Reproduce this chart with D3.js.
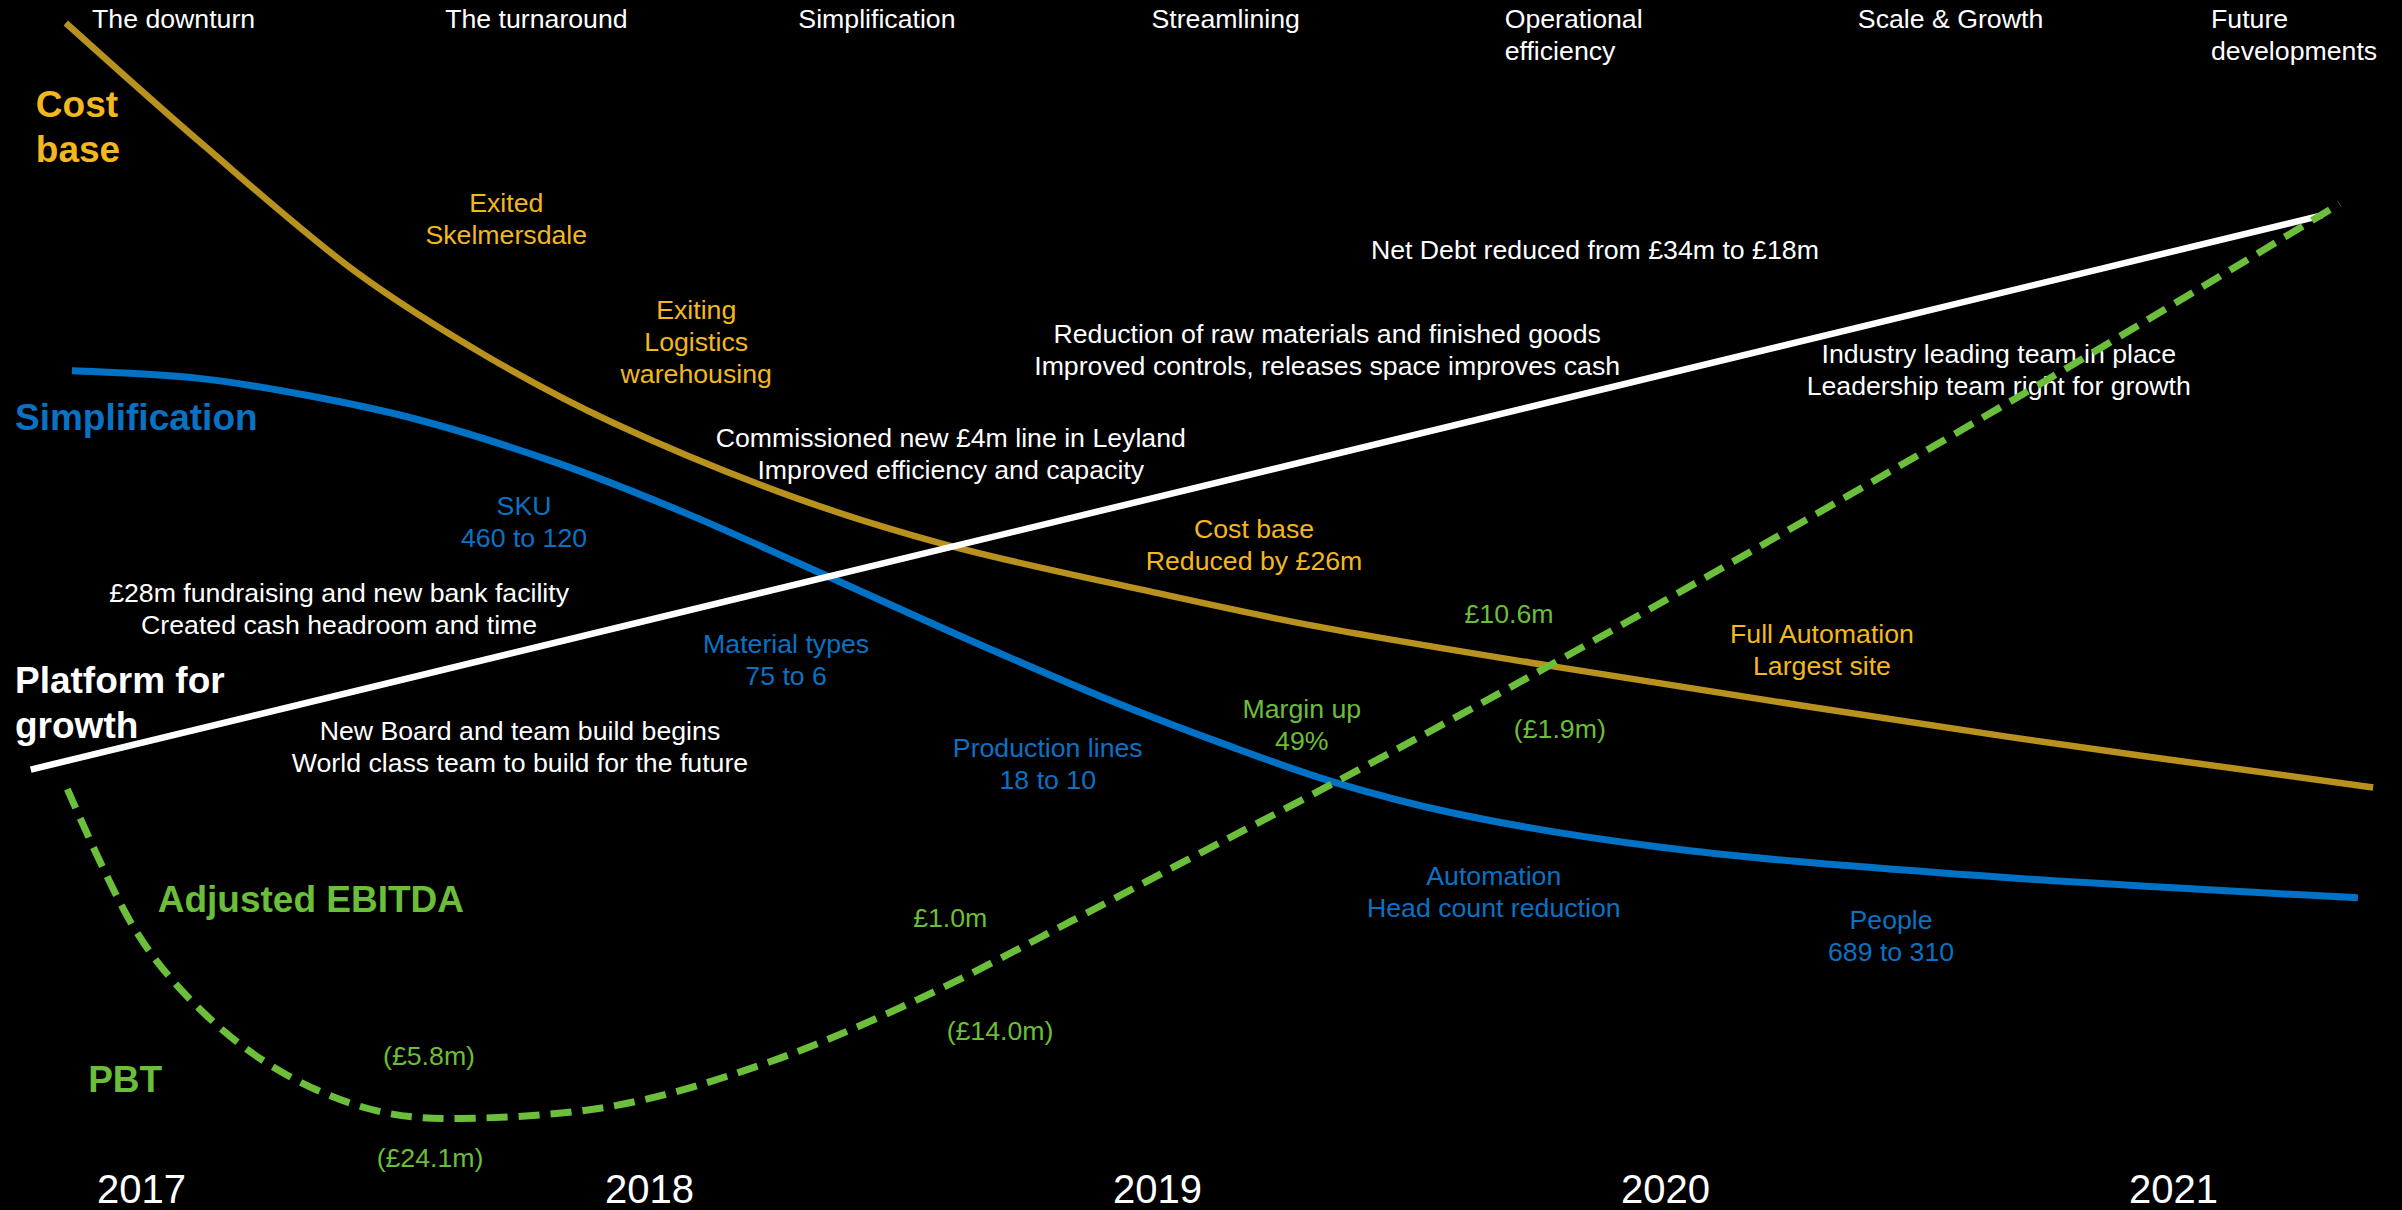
<!DOCTYPE html>
<html>
<head>
<meta charset="utf-8">
<script src="https://cdn.jsdelivr.net/npm/d3@7"></script>
<style>
  html, body { margin: 0; padding: 0; background: #000; }
  svg { display: block; }
  text { font-family: "Liberation Sans", Arial, sans-serif; }
</style>
</head>
<body>
<svg></svg>
<script>
// years along the bottom
var years = [2017, 2018, 2019, 2020, 2021];

// stage headings along the top
var phases = [["The downturn"], ["The turnaround"], ["Simplification"], ["Streamlining"],
              ["Operational", "efficiency"], ["Scale & Growth"], ["Future", "developments"]];

// curves: yr = position in years, v = relative level (0 bottom .. 100 top)
var costBase = [
  {yr: 2016.852, v: 98.1}, {yr: 2017.124, v: 87.97}, {yr: 2017.425, v: 77.46},
  {yr: 2017.678, v: 70.62}, {yr: 2017.929, v: 65.06}, {yr: 2018.297, v: 58.73},
  {yr: 2018.589, v: 54.93}, {yr: 2018.999, v: 51.0}, {yr: 2019.301, v: 48.34},
  {yr: 2019.780, v: 44.93}, {yr: 2020.676, v: 39.1}, {yr: 2021.394, v: 34.92}
];
var simplification = [
  {yr: 2016.864, v: 69.36}, {yr: 2017.115, v: 68.73}, {yr: 2017.326, v: 67.33},
  {yr: 2017.546, v: 65.31}, {yr: 2017.826, v: 61.64}, {yr: 2018.080, v: 57.45},
  {yr: 2018.297, v: 53.41}, {yr: 2018.598, v: 47.71}, {yr: 2018.900, v: 42.26},
  {yr: 2019.135, v: 38.46}, {yr: 2019.343, v: 35.43}, {yr: 2019.587, v: 32.77},
  {yr: 2019.992, v: 29.98}, {yr: 2020.595, v: 27.7}, {yr: 2021.364, v: 25.8}
];
var platform = [
  {yr: 2016.783, v: 36.4}, {yr: 2021.293, v: 82.2}
];
var ebitda = [
  {yr: 2016.855, v: 34.79}, {yr: 2016.985, v: 23.4}, {yr: 2017.084, v: 17.96},
  {yr: 2017.217, v: 13.02}, {yr: 2017.356, v: 9.73}, {yr: 2017.492, v: 7.95},
  {yr: 2017.627, v: 7.57}, {yr: 2017.929, v: 8.59}, {yr: 2018.230, v: 12.13},
  {yr: 2018.532, v: 17.45}, {yr: 2018.833, v: 23.91}, {yr: 2019.084, v: 29.48},
  {yr: 2019.343, v: 35.17}, {yr: 2019.780, v: 45.17}, {yr: 2020.685, v: 66.95},
  {yr: 2021.328, v: 83.16}
];

// series names (bold)
var seriesLabels = [
  {lines: ["Cost", "base"], yr: 2016.793, v: 90.3, kind: "gold"},
  {lines: ["Simplification"], yr: 2016.752, v: 64.5, kind: "blue"},
  {lines: ["Platform for", "growth"], yr: 2016.752, v: 42.7, kind: "white"},
  {lines: ["Adjusted EBITDA"], yr: 2017.033, v: 24.6, kind: "green"},
  {lines: ["PBT"], yr: 2016.896, v: 9.75, kind: "green"}
];

// annotations
var goldNotes = [
  {lines: ["Exited", "Skelmersdale"], yr: 2017.719, v: 82.5},
  {lines: ["Exiting", "Logistics", "warehousing"], yr: 2018.093, v: 73.6},
  {lines: ["Cost base", "Reduced by £26m"], yr: 2019.191, v: 55.5},
  {lines: ["Full Automation", "Largest site"], yr: 2020.309, v: 46.9}
];
var blueNotes = [
  {lines: ["SKU", "460 to 120"], yr: 2017.754, v: 57.4},
  {lines: ["Material types", "75 to 6"], yr: 2018.270, v: 46.0},
  {lines: ["Production lines", "18 to 10"], yr: 2018.785, v: 37.4},
  {lines: ["Automation", "Head count reduction"], yr: 2019.663, v: 26.9},
  {lines: ["People", "689 to 310"], yr: 2020.445, v: 23.2}
];
var greenNotes = [
  {lines: ["£10.6m"], yr: 2019.693, v: 48.5},
  {lines: ["(£1.9m)"], yr: 2019.793, v: 39.0},
  {lines: ["Margin up", "49%"], yr: 2019.285, v: 40.7},
  {lines: ["£1.0m"], yr: 2018.593, v: 23.4},
  {lines: ["(£14.0m)"], yr: 2018.691, v: 14.05},
  {lines: ["(£5.8m)"], yr: 2017.567, v: 12.0},
  {lines: ["(£24.1m)"], yr: 2017.569, v: 3.55}
];
var whiteNotes = [
  {lines: ["Net Debt reduced from £34m to £18m"], yr: 2019.862, v: 78.6},
  {lines: ["Reduction of raw materials and finished goods", "Improved controls, releases space improves cash"], yr: 2019.335, v: 71.65},
  {lines: ["Industry leading team in place", "Leadership team right for growth"], yr: 2020.657, v: 70.0},
  {lines: ["Commissioned new £4m line in Leyland", "Improved efficiency and capacity"], yr: 2018.594, v: 63.06},
  {lines: ["£28m fundraising and new bank facility", "Created cash headroom and time"], yr: 2017.390, v: 50.25},
  {lines: ["New Board and team build begins", "World class team to build for the future"], yr: 2017.746, v: 38.84}
];

var width = 2402;
var height = 1210;

var colors = {
  gold: "#B8911F", goldText: "#F2B81E",
  blue: "#0072C6", blueText: "#0A72C4",
  green: "#6CBF3A", greenText: "#6BBE3A",
  white: "#FFFFFF"
};

var x = d3.scaleLinear().domain([2017, 2021]).range([141, 2173]);
var y = d3.scaleLinear().domain([0, 100]).range([height, 0]);
var phaseX = d3.scaleLinear().domain([0, phases.length - 1]).range([92, 2211]);

var svg = d3.select("svg")
    .attr("width", width)
    .attr("height", height)
    .style("background", "#000");

svg.append("rect")
    .attr("width", width)
    .attr("height", height)
    .attr("fill", "#000");

var line = d3.line()
    .x(d => x(d.yr))
    .y(d => y(d.v))
    .curve(d3.curveCatmullRom.alpha(0.5));

// lines, in the stacking order of the picture
svg.append("path")
    .datum(costBase)
    .attr("fill", "none")
    .attr("stroke", colors.gold)
    .attr("stroke-width", 6.5)
    .attr("d", line);

svg.append("path")
    .datum(simplification)
    .attr("fill", "none")
    .attr("stroke", colors.blue)
    .attr("stroke-width", 7)
    .attr("d", line);

svg.append("path")
    .datum(platform)
    .attr("fill", "none")
    .attr("stroke", colors.white)
    .attr("stroke-width", 6.5)
    .attr("d", line);

// top headings
var heads = svg.append("g").selectAll("text")
    .data(phases)
    .enter()
    .append("text")
    .attr("x", (d, i) => phaseX(i))
    .attr("y", 28)
    .attr("fill", "#fff")
    .attr("font-size", 26.7);
heads.selectAll("tspan")
    .data(d => d)
    .enter()
    .append("tspan")
    .attr("x", function() { return d3.select(this.parentNode).attr("x"); })
    .attr("dy", (d, i) => i === 0 ? 0 : 32)
    .text(d => d);

// year axis
var axis = d3.axisBottom(x)
    .tickValues(years)
    .tickFormat(d3.format("d"))
    .tickSize(0);
var axisG = svg.append("g")
    .attr("transform", "translate(0,1203)")
    .call(axis);
axisG.select(".domain").remove();
axisG.selectAll("text")
    .attr("y", 0)
    .attr("dy", 0)
    .attr("fill", "#fff")
    .attr("font-size", 40)
    .attr("font-family", "Liberation Sans, Arial, sans-serif");

// multi-line text helper
function addNotes(data, fill, size, gap, anchor, weight) {
  var t = svg.append("g").selectAll("text")
      .data(data)
      .enter()
      .append("text")
      .attr("x", d => x(d.yr))
      .attr("y", d => y(d.v))
      .attr("fill", fill)
      .attr("font-size", size)
      .attr("font-weight", weight)
      .attr("text-anchor", anchor);
  t.selectAll("tspan")
      .data(d => d.lines.map(s => ({s: s, x: x(d.yr)})))
      .enter()
      .append("tspan")
      .attr("x", d => d.x)
      .attr("dy", (d, i) => i === 0 ? 0 : gap)
      .text(d => d.s);
}

addNotes(goldNotes, colors.goldText, 26.7, 32, "middle", "normal");
addNotes(blueNotes, colors.blueText, 26.7, 32, "middle", "normal");
addNotes(greenNotes, colors.greenText, 26.7, 32, "middle", "normal");
addNotes(whiteNotes, "#fff", 26.7, 32, "middle", "normal");

var labelFill = {gold: colors.goldText, blue: colors.blueText, white: "#fff", green: colors.greenText};
seriesLabels.forEach(function(d) {
  addNotes([d], labelFill[d.kind], 37, 45, "start", "bold");
});

// dashed EBITDA line on top
svg.append("path")
    .datum(ebitda)
    .attr("fill", "none")
    .attr("stroke", colors.green)
    .attr("stroke-width", 7)
    .attr("stroke-dasharray", "21,11")
    .attr("d", line);
</script>
</body>
</html>
